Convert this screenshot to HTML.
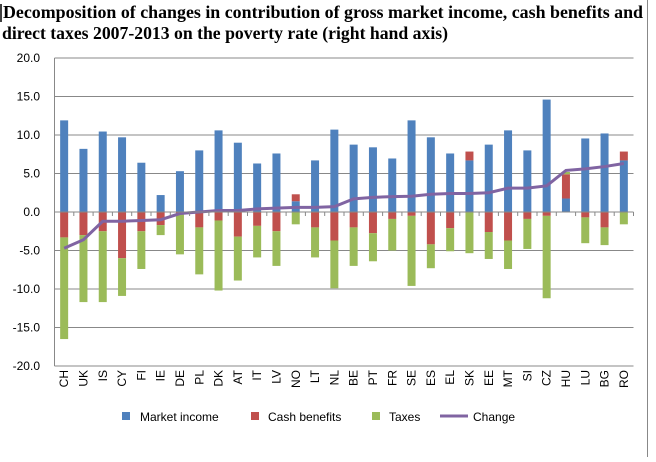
<!DOCTYPE html>
<html><head><meta charset="utf-8"><style>
body{margin:0;background:#fff;width:656px;height:457px;overflow:hidden}
svg text{font-family:"Liberation Sans",sans-serif}
</style></head><body>
<svg id="c" width="656" height="457">
<line x1="1" y1="4" x2="1" y2="22" stroke="#000" stroke-width="1.5"/>
<text x="3" y="18" font-weight="bold" font-size="17.5" textLength="640" lengthAdjust="spacingAndGlyphs" style="font-family:'Liberation Serif',serif">Decomposition of changes in contribution of gross market income, cash benefits and</text>
<text x="2" y="39" font-weight="bold" font-size="17.5" textLength="446" lengthAdjust="spacingAndGlyphs" style="font-family:'Liberation Serif',serif">direct taxes 2007-2013 on the poverty rate (right hand axis)</text>
<line x1="647.5" y1="0" x2="647.5" y2="457" stroke="#888"/>
<g id="grid"></g><g id="bars"></g><g id="line"></g><g id="axes"></g>
<g>
<rect x="122" y="412" width="8" height="8" fill="#4f81bd"/>
<text x="140" y="421" font-size="12">Market income</text>
<rect x="251" y="412" width="8" height="8" fill="#c0504d"/>
<text x="268" y="421" font-size="12">Cash benefits</text>
<rect x="372" y="412" width="8" height="8" fill="#9bbb59"/>
<text x="389" y="421" font-size="12">Taxes</text>
<line x1="440" y1="416" x2="468" y2="416" stroke="#8064a2" stroke-width="3"/>
<text x="473" y="421" font-size="12">Change</text>
</g>
</svg>
<script>
const categories=["CH","UK","IS","CY","FI","IE","DE","PL","DK","AT","IT","LV","NO","LT","NL","BE","PT","FR","SE","ES","EL","SK","EE","MT","SI","CZ","HU","LU","BG","RO"];
const marketIncome=[11.9,8.2,10.45,9.7,6.4,2.2,5.3,8.0,10.6,9.0,6.3,7.6,1.4,6.7,10.7,8.75,8.4,6.95,11.9,9.7,7.6,6.7,8.75,10.6,8.0,14.6,1.75,9.55,10.2,6.7];
const cashBenefits=[-3.3,-3.0,-2.5,-6.0,-2.5,-1.7,-0.2,-2.0,-1.1,-3.2,-1.8,-2.5,0.9,-2.0,-3.7,-2.0,-2.75,-0.9,-0.5,-4.2,-2.1,1.15,-2.6,-3.7,-0.9,-0.5,3.15,-0.7,-2.0,1.15];
const taxes=[-13.2,-8.7,-9.2,-4.9,-4.9,-1.3,-5.3,-6.1,-9.1,-5.7,-4.1,-4.5,-1.6,-3.9,-6.2,-5.0,-3.65,-4.1,-9.1,-3.1,-3.0,-5.35,-3.5,-3.7,-3.9,-10.7,0.3,-3.35,-2.3,-1.6];
const change=[-4.7,-3.6,-1.2,-1.2,-1.1,-1.0,-0.2,0.0,0.2,0.2,0.4,0.5,0.6,0.6,0.7,1.7,1.9,2.0,2.05,2.3,2.4,2.4,2.5,3.1,3.1,3.4,5.4,5.6,5.9,6.3];
const yTicks=[20,15,10,5,0,-5,-10,-15,-20];
const NS="http://www.w3.org/2000/svg";
const x0=54.5,x1=633.5,yTop=58,yBot=366;
const band=(x1-x0)/categories.length;
function X(i){return x0+band*(i+0.5);}
function Y(v){return yTop+(20-v)*(yBot-yTop)/40;}
function mk(tag,attrs,parent){const e=document.createElementNS(NS,tag);for(const k in attrs)e.setAttribute(k,attrs[k]);document.getElementById(parent).appendChild(e);return e;}
yTicks.forEach(t=>{
  const g=mk('line',{x1:x0,x2:x1,y1:Y(t),y2:Y(t),stroke:'#888','stroke-width':1},'grid');
  
  
  const l=mk('text',{x:40,y:Y(t)+4,'text-anchor':'end','font-size':12},'axes');
  l.textContent=t.toFixed(1);
  
  
});
const ya=mk('line',{x1:x0,x2:x0,y1:yTop,y2:yBot,stroke:'#888'},'axes');


const xa=mk('line',{x1:x0,x2:x1,y1:Y(0),y2:Y(0),stroke:'#888'},'axes');


const bw=8;
categories.forEach((c,i)=>{
  const tk=mk('line',{x1:x0+band*(i+1),x2:x0+band*(i+1),y1:Y(0),y2:Y(0)+4,stroke:'#888'},'axes');
  
  
  let pos=0,neg=0;
  [[marketIncome[i],'#4f81bd','bar-market-income'],[cashBenefits[i],'#c0504d','bar-cash-benefits'],[taxes[i],'#9bbb59','bar-taxes']].forEach(([v,col,nm])=>{
    let a,b;
    if(v>=0){a=pos;b=pos+v;pos=b;}else{a=neg;b=neg+v;neg=b;}
    const r=mk('rect',{x:X(i)-bw/2,y:Math.min(Y(a),Y(b)),width:bw,height:Math.abs(Y(a)-Y(b)),fill:col},'bars');
    
    
  });
  const t=mk('text',{x:0,y:0,'font-size':12,'text-anchor':'end',transform:`translate(${X(i)+4},370) rotate(-90)`},'axes');
  t.textContent=c;
  
  
});
const pl=mk('polyline',{points:change.map((v,i)=>X(i)+','+Y(v)).join(' '),fill:'none',stroke:'#8064a2','stroke-width':3},'line');


</script>
</body></html>
